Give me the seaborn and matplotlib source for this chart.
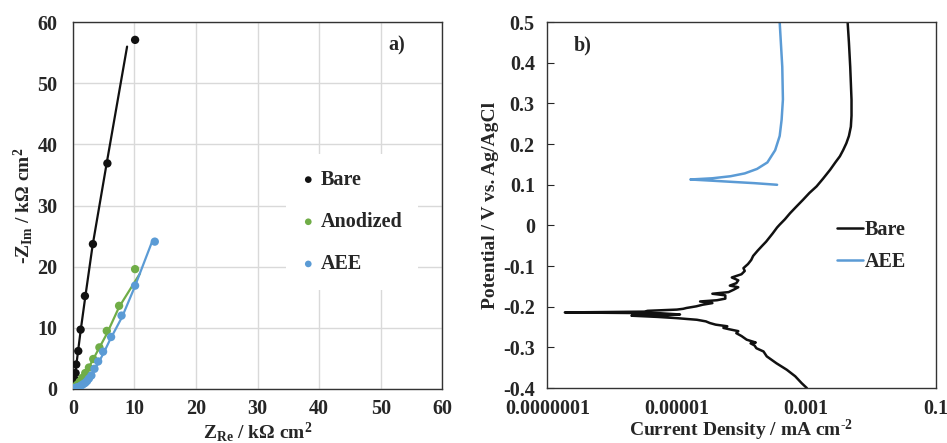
import numpy as np
import pandas as pd
import matplotlib
matplotlib.use("Agg")
import matplotlib.pyplot as plt
from matplotlib.ticker import NullFormatter
import seaborn as sns


# Nyquist data (panel a), kOhm cm2
bare_re = [0.05, 0.1, 0.2, 0.3, 0.43, 0.54, 0.87, 1.25, 1.95, 3.25, 5.6, 10.1]
bare_im = [0.1, 0.3, 0.8, 1.5, 2.6, 4.0, 6.2, 9.7, 15.2, 23.7, 36.9, 57.1]
bare_fit_re = [0.0, 0.5, 1.25, 2.0, 3.2, 5.5, 8.8]
bare_fit_im = [0.0, 3.5, 9.5, 15.0, 23.5, 37.0, 56.0]

anod_re = [0.2, 0.4, 0.7, 1.1, 1.5, 2.0, 2.6, 3.3, 4.3, 5.5, 7.5, 10.1]
anod_im = [0.2, 0.4, 0.7, 1.2, 1.8, 2.6, 3.5, 4.9, 6.8, 9.5, 13.6, 19.6]
anod_fit_re = [0.0, 1.0, 2.0, 3.0, 4.0, 5.5, 7.5, 10.9]
anod_fit_im = [0.0, 1.1, 2.6, 4.3, 6.2, 9.0, 13.4, 18.9]

aee_re = [0.1, 0.3, 0.5, 0.8, 1.1, 1.4, 1.7, 2.0, 2.3, 2.6, 3.0, 3.5, 4.1, 4.9, 6.2, 7.9, 10.1, 13.3]
aee_im = [0.05, 0.1, 0.2, 0.3, 0.4, 0.6, 0.8, 1.0, 1.3, 1.7, 2.2, 3.3, 4.5, 6.1, 8.5, 12.0, 16.9, 24.1]
aee_fit_re = [0.0, 1.0, 2.0, 3.0, 4.0, 5.0, 6.0, 8.0, 10.0, 12.9, 13.3]
aee_fit_im = [0.0, 0.4, 1.0, 2.3, 4.0, 5.9, 8.0, 11.8, 16.6, 24.2, 24.2]

# Polarization data (panel b): potential V vs Ag/AgCl, log10 current density (mA cm-2)
bare_v = [-0.400, -0.388, -0.371, -0.355, -0.339, -0.322, -0.310, -0.302, -0.295, -0.290,
          -0.288, -0.281, -0.272, -0.265, -0.260, -0.255, -0.252, -0.248, -0.244, -0.240,
          -0.236, -0.232, -0.230, -0.228, -0.225, -0.222, -0.221, -0.219, -0.216, -0.214,
          -0.212, -0.210, -0.209, -0.207, -0.205, -0.203, -0.199, -0.195, -0.191, -0.187,
          -0.184, -0.180, -0.172, -0.168, -0.164, -0.158, -0.152, -0.148, -0.142, -0.135,
          -0.128, -0.120, -0.112, -0.105, -0.095, -0.085, -0.075, -0.062, -0.050, -0.040,
          -0.030, -0.020, -0.005, 0.002, 0.015, 0.030, 0.045, 0.063, 0.080, 0.096,
          0.115, 0.137, 0.155, 0.170, 0.185, 0.202, 0.220, 0.243, 0.270, 0.309,
          0.350, 0.390, 0.450, 0.500]
bare_logi = [-2.99, -3.07, -3.17, -3.30, -3.46, -3.61, -3.66, -3.77, -3.80, -3.86,
             -3.78, -3.92, -4.00, -4.08, -4.05, -4.20, -4.28, -4.22, -4.40, -4.49,
             -4.55, -4.69, -4.85, -5.00, -5.30, -5.70, -5.20, -4.95, -5.25, -6.73,
             -5.50, -5.45, -5.30, -5.00, -4.90, -4.85, -4.70, -4.60, -4.45, -4.64,
             -4.38, -4.25, -4.25, -4.45, -4.20, -4.12, -4.05, -4.18, -4.08, -4.05,
             -4.15, -4.00, -3.95, -3.97, -3.90, -3.85, -3.82, -3.75, -3.68, -3.62,
             -3.57, -3.52, -3.45, -3.41, -3.33, -3.25, -3.16, -3.05, -2.95, -2.84,
             -2.74, -2.63, -2.55, -2.48, -2.43, -2.38, -2.34, -2.31, -2.30, -2.30,
             -2.31, -2.32, -2.34, -2.36]

aee_v = [0.100, 0.104, 0.107, 0.110, 0.113, 0.116, 0.121, 0.128, 0.139, 0.155,
         0.185, 0.220, 0.260, 0.310, 0.390, 0.500]
aee_logi = [-3.45, -3.80, -4.13, -4.45, -4.79, -4.45, -4.17, -3.95, -3.76, -3.60,
            -3.48, -3.41, -3.38, -3.36, -3.37, -3.41]

xtick_vals = [1e-7, 1e-5, 1e-3, 1e-1]
xtick_labels = ["0.0000001", "0.00001", "0.001", "0.1"]
ytick_vals = [-0.4, -0.3, -0.2, -0.1, 0.0, 0.1, 0.2, 0.3, 0.4, 0.5]
ytick_labels = ["-0.4", "-0.3", "-0.2", "-0.1", "0", "0.1", "0.2", "0.3", "0.4", "0.5"]

black = "#111111"
green = "#70AD47"
blue = "#5B9BD5"

sns.set_style("white")
plt.rcParams["font.family"] = ["Liberation Serif", "DejaVu Serif"]
plt.rcParams["font.weight"] = "bold"
plt.rcParams["axes.labelweight"] = "bold"
plt.rcParams["mathtext.fontset"] = "custom"
plt.rcParams["mathtext.rm"] = "Liberation Serif:bold"
plt.rcParams["mathtext.bf"] = "Liberation Serif:bold"
plt.rcParams["mathtext.it"] = "Liberation Serif:bold"
plt.rcParams["axes.unicode_minus"] = False

fs = 14.5
fl = 14

fig = plt.figure(figsize=(9.47, 4.43), dpi=100)
ax1 = fig.add_axes([0.077, 0.122, 0.390, 0.828])
ax2 = fig.add_axes([0.578, 0.124, 0.410, 0.826])

# ---- panel a
series = [
    ("Bare", bare_re, bare_im, bare_fit_re, bare_fit_im, black),
    ("Anodized", anod_re, anod_im, anod_fit_re, anod_fit_im, green),
    ("AEE", aee_re, aee_im, aee_fit_re, aee_fit_im, blue),
]
for name, xr, yi, fx, fy, c in series:
    sns.lineplot(x=fx, y=fy, sort=False, estimator=None, color=c, lw=1.6, ax=ax1,
                 label="_nolegend_")
    sns.scatterplot(x=xr, y=yi, color=c, s=36, edgecolor="none", ax=ax1, label=name, zorder=3)

ax1.set_xlim(0, 60)
ax1.set_ylim(0, 60)
ax1.set_xticks(range(0, 61, 10))
ax1.set_yticks(range(0, 61, 10))
ax1.grid(True, color="#d9d9d9", lw=1)
ax1.set_axisbelow(True)
ax1.tick_params(length=0, labelsize=fs)
ax1.tick_params(axis="x", pad=7)
ax1.tick_params(axis="y", pad=11)
for s in ax1.spines.values():
    s.set_color("#333333")
    s.set_linewidth(1)
ax1.set_xlabel(r"Z$_{\rm Re}$ / kΩ cm$^{\rm 2}$", fontsize=fl, labelpad=1)
ax1.set_ylabel(r"-Z$_{\rm Im}$ / kΩ cm$^{\rm 2}$", fontsize=fl, labelpad=2)
ax1.text(0.877, 0.937, "a)", transform=ax1.transAxes, fontsize=fs, ha="center", va="center")
leg1 = ax1.legend(loc="center left", bbox_to_anchor=(0.55, 0.455), fontsize=fs,
                  handlelength=0.6, handletextpad=0.3, labelspacing=1.1, markerscale=0.8,
                  frameon=True, fancybox=False, borderpad=0.8)
leg1.get_frame().set_facecolor("white")
leg1.get_frame().set_edgecolor("none")
leg1.get_frame().set_alpha(1)

# ---- panel b
df_bare = pd.DataFrame({"i": np.power(10.0, bare_logi), "v": bare_v})
df_aee = pd.DataFrame({"i": np.power(10.0, aee_logi), "v": aee_v})
sns.lineplot(data=df_bare, x="i", y="v", sort=False, estimator=None, color=black, lw=1.8,
             ax=ax2, label="Bare")
sns.lineplot(data=df_aee, x="i", y="v", sort=False, estimator=None, color=blue, lw=1.8,
             ax=ax2, label="AEE")
ax2.set_xscale("log")
ax2.set_xlim(1e-7, 1e-1)
ax2.set_ylim(-0.4, 0.5)
ax2.set_xticks(xtick_vals, labels=xtick_labels)
minor = [k * d for d in (1e-6, 1e-4, 1e-2) for k in range(1, 10)]
ax2.set_xticks(minor, minor=True)
ax2.xaxis.set_minor_formatter(NullFormatter())
ax2.set_yticks(ytick_vals, labels=ytick_labels)
ax2.tick_params(axis="x", which="major", direction="in", length=0, labelsize=fs, pad=8)
ax2.tick_params(axis="x", which="minor", direction="in", length=4, width=0.8, color="#333333")
ax2.tick_params(axis="y", direction="in", length=5, width=0.8, labelsize=fs, pad=9, left=True)
for s in ax2.spines.values():
    s.set_color("#333333")
    s.set_linewidth(1)
ax2.set_xlabel(r"Current Density / mA cm$^{\text{-2}}$", fontsize=fl, labelpad=-1)
ax2.set_ylabel("Potential / V vs. Ag/AgCl", fontsize=fl, labelpad=3)
ax2.text(0.09, 0.937, "b)", transform=ax2.transAxes, fontsize=fs, ha="center", va="center")
ax2.legend(loc="center left", bbox_to_anchor=(0.745, 0.388), fontsize=fs, frameon=False,
           handlelength=1.3, handletextpad=0.1, labelspacing=0.6, borderpad=0, borderaxespad=0)

fig.savefig("out.png", dpi=100)
